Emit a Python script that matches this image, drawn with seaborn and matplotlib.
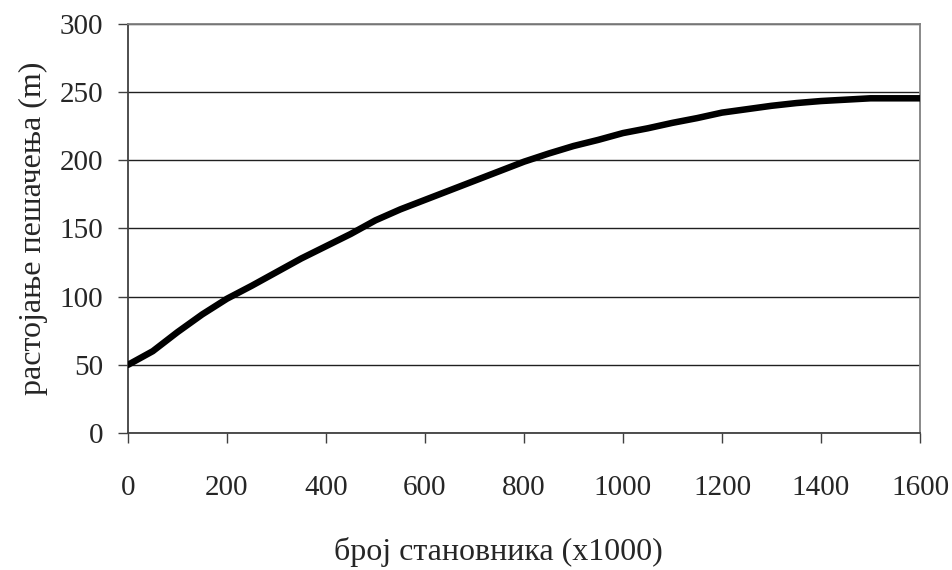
import matplotlib.pyplot as plt
import pandas as pd
import seaborn as sns

# values
population = [0, 50, 100, 150, 200, 250, 300, 350, 400, 450, 500, 550, 600, 650, 700,
              750, 800, 850, 900, 950, 1000, 1050, 1100, 1150, 1200, 1250, 1300, 1350,
              1400, 1450, 1500, 1550, 1600]
distance = [50, 60, 74, 87, 98.5, 108, 118, 128, 137, 146, 156, 164, 171, 178, 185,
            192, 199, 205, 210.5, 215, 220, 223.5, 227.5, 231, 235, 237.5, 240, 242,
            243.5, 244.5, 245.5, 245.5, 245.5]
y_ticks = [0, 50, 100, 150, 200, 250, 300]
x_ticks = [0, 200, 400, 600, 800, 1000, 1200, 1400, 1600]

df = pd.DataFrame({'pop': population, 'dist': distance})

sns.set_style('white')
plt.rcParams['font.family'] = ['Liberation Serif', 'DejaVu Serif']

fig = plt.figure(figsize=(9.52, 5.70), dpi=100)
ax = fig.add_axes([128 / 952, 1 - 433 / 570, (920 - 128) / 952, (433 - 24) / 570])

sns.lineplot(data=df, x='pop', y='dist', ax=ax, color='black', linewidth=4.7,
             solid_capstyle='round', solid_joinstyle='round', zorder=3)

ax.set_xlim(0, 1600)
ax.set_ylim(0, 300)
ax.set_xticks(x_ticks)
ax.set_yticks(y_ticks)
ax.yaxis.grid(True, color='#202020', linewidth=1.0)
ax.set_axisbelow(True)

for side in ['left', 'bottom']:
    ax.spines[side].set_color('#404040')
    ax.spines[side].set_linewidth(1.3)
for side in ['top', 'right']:
    ax.spines[side].set_color('#808080')
    ax.spines[side].set_linewidth(1.3)

ax.tick_params(axis='both', direction='out', length=7, width=1, color='#404040',
               labelsize=21, left=True, bottom=True)
ax.tick_params(axis='y', pad=11)
ax.tick_params(axis='x', pad=23)

# label sits a bit left of the plot centre in the original
ax.set_xlabel('број становника (x1000)', fontsize=23, labelpad=26, x=0.468)
ax.set_ylabel('растојање пешачења (m)', fontsize=23, labelpad=8)

fig.savefig('out.png', dpi=100)
